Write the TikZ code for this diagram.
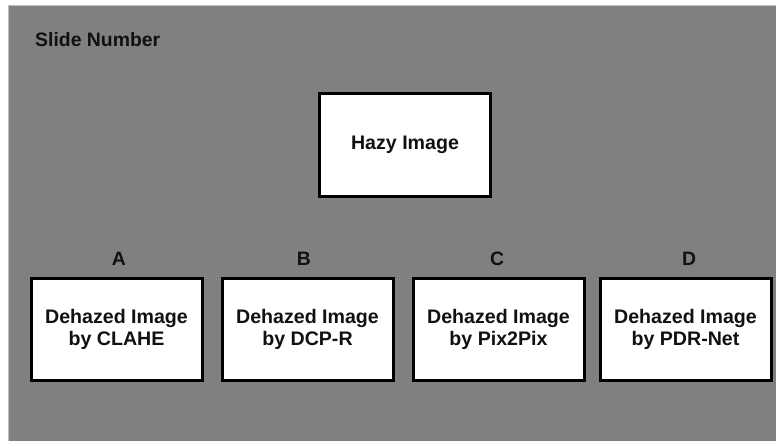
\documentclass[tikz,border=0pt]{standalone}
\usepackage{fontspec}
\setmainfont{Liberation Sans}
\definecolor{bggray}{RGB}{128,128,128}
\definecolor{edgegray}{RGB}{190,190,190}
\definecolor{txt}{RGB}{17,17,17}
\begin{document}
\begin{tikzpicture}[x=1pt,y=-1pt,
  box/.style={draw=black,fill=white,line width=3pt,minimum width=171pt,minimum height=102pt,inner sep=0pt,align=center,font=\fontsize{19.6}{22}\selectfont\bfseries,text=txt},
  lbl/.style={font=\fontsize{19.4}{22}\selectfont\bfseries,text=txt,inner sep=0pt}]
\useasboundingbox (0,0) rectangle (776,441);
\fill[white] (0,0) rectangle (776,441);
\fill[bggray] (8,5) rectangle (776,441);
\draw[line width=1.2pt,edgegray] (8.6,441) -- (8.6,5.6) -- (776,5.6);
\node[lbl,anchor=west] (slide) at (35,40) {Slide Number};
\node[box] (hazy) at (405,145) {Hazy Image};
\node[box] (a) at (116.5,329) {Dehazed Image\\by CLAHE};
\node[box] (b) at (307.5,329) {Dehazed Image\\by DCP-R};
\node[box] (c) at (498.5,329) {Dehazed Image\\by Pix2Pix};
\node[box] (d) at (685.5,329) {Dehazed Image\\by PDR-Net};
\node[lbl] (la) at (119,259) {A};
\node[lbl] (lb) at (304,259) {B};
\node[lbl] (lc) at (497,259) {C};
\node[lbl] (ld) at (689,259) {D};
\end{tikzpicture}
\end{document}
